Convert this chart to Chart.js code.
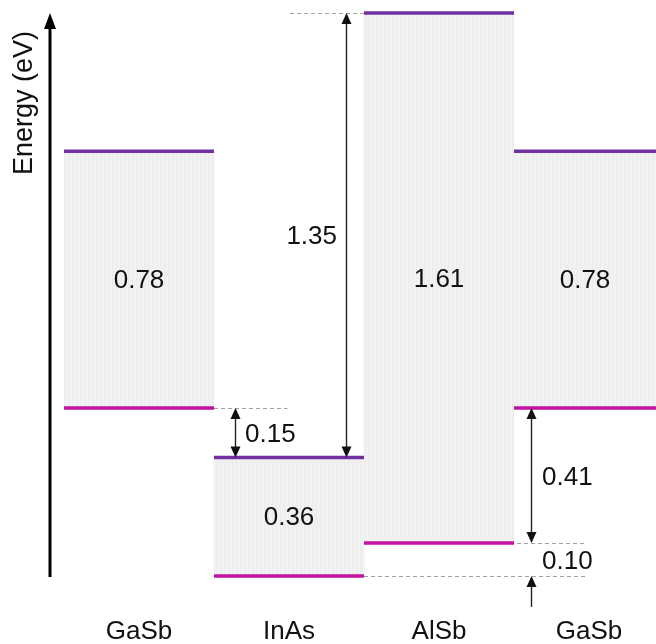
<!DOCTYPE html>
<html><head><meta charset="utf-8">
<script src="https://cdn.jsdelivr.net/npm/chart.js@4.4.1/dist/chart.umd.min.js"></script>
<style>html,body{margin:0;padding:0;background:#fff}#wrap{width:656px;height:644px}</style>
</head><body><div id="wrap"><canvas id="c" width="656" height="644"></canvas></div>
<script>
// ---- data ----
const materials = ['GaSb', 'InAs', 'AlSb', 'GaSb'];
const valenceBand = [0.51, 0.00, 0.10, 0.51];
const conductionBand = [1.29, 0.36, 1.71, 1.29];
const gapLabels = ['0.78', '0.36', '1.61', '0.78'];
const offsetLabels = ['0.15', '1.35', '0.41', '0.10'];
const axisTitle = 'Energy (eV)';

const FONT = '"Liberation Sans", Arial, Helvetica, sans-serif';
const canvas = document.getElementById('c');
const ctx0 = canvas.getContext('2d');

function stripePattern() {
  const p = document.createElement('canvas');
  p.width = 4; p.height = 4;
  const g = p.getContext('2d');
  g.fillStyle = '#f1f1f1'; g.fillRect(0, 0, 4, 4);
  g.fillStyle = '#ececec'; g.fillRect(0, 0, 1, 4);
  return ctx0.createPattern(p, 'repeat');
}

function bandSegments(levels) {
  const out = [];
  levels.forEach((v, i) => { out.push({x: i, y: v}, {x: i + 1, y: v}, {x: i + 1, y: null}); });
  return out;
}

function arrowHead(ctx, x, y, dir, w, l) {
  ctx.beginPath();
  ctx.moveTo(x, y);
  ctx.lineTo(x - w / 2, y - dir * l);
  ctx.lineTo(x + w / 2, y - dir * l);
  ctx.closePath();
  ctx.fill();
}

const decorations = {
  id: 'decorations',
  afterDatasetsDraw(chart) {
    const ctx = chart.ctx;
    const xs = chart.scales.x, ys = chart.scales.y;
    const X = v => xs.getPixelForValue(v);
    const Y = v => ys.getPixelForValue(v);
    const area = chart.chartArea;
    ctx.save();

    // gap labels in the centre of each (visible) box
    const meta = chart.getDatasetMeta(0);
    ctx.font = '26px ' + FONT;
    ctx.fillStyle = '#111';
    ctx.textAlign = 'center';
    ctx.textBaseline = 'middle';
    meta.data.forEach((el, i) => {
      const p = el.getProps(['x', 'y', 'base', 'width'], true);
      const l = Math.max(area.left, p.x - p.width / 2);
      const r = Math.min(area.right, p.x + p.width / 2);
      ctx.fillText(gapLabels[i], (l + r) / 2, (p.y + p.base) / 2 + 1.5);
    });

    // dashed guide lines
    ctx.strokeStyle = '#a0a0a0';
    ctx.lineWidth = 1;
    ctx.setLineDash([4, 3]);
    const dashes = [
      {y: valenceBand[0], x0: 1.0, x1: 1.49},
      {y: conductionBand[2], x0: 1.507, x1: 2.0},
      {y: valenceBand[2], x0: 3.02, x1: 3.48},
      {y: valenceBand[1], x0: 2.0, x1: 3.48}
    ];
    dashes.forEach(d => {
      ctx.beginPath();
      ctx.moveTo(X(d.x0), Math.round(Y(d.y)) + 0.5);
      ctx.lineTo(X(d.x1), Math.round(Y(d.y)) + 0.5);
      ctx.stroke();
    });
    ctx.setLineDash([]);

    // band offset arrows
    const arrows = [
      {x: 1.14, from: conductionBand[1], to: valenceBand[0], both: true, label: offsetLabels[0], lx: 1.207, align: 'left'},
      {x: 1.88, from: conductionBand[1], to: conductionBand[2], both: true, label: offsetLabels[1], lx: 1.82, align: 'right'},
      {x: 3.113, from: valenceBand[2], to: valenceBand[3], both: true, label: offsetLabels[2], lx: 3.187, align: 'left'},
      {x: 3.113, from: -0.094, to: valenceBand[1], both: false, label: offsetLabels[3], lx: 3.187, align: 'left',
        labelFrom: valenceBand[1], labelTo: valenceBand[2]}
    ];
    ctx.strokeStyle = '#222';
    ctx.fillStyle = '#111';
    ctx.lineWidth = 1.4;
    arrows.forEach(a => {
      const x = Math.round(X(a.x)) + 0.5;
      const yA = Y(a.from), yB = Y(a.to);
      const up = yB < yA;
      ctx.beginPath();
      ctx.moveTo(x, a.both ? yA + (up ? -8 : 8) : yA);
      ctx.lineTo(x, yB + (up ? 8 : -8));
      ctx.stroke();
      arrowHead(ctx, x, yB, up ? -1 : 1, 10, 11);
      if (a.both) arrowHead(ctx, x, yA, up ? 1 : -1, 10, 11);
      const lf = a.labelFrom !== undefined ? a.labelFrom : a.from;
      const lt = a.labelTo !== undefined ? a.labelTo : a.to;
      ctx.font = '26px ' + FONT;
      ctx.textAlign = a.align;
      ctx.textBaseline = 'middle';
      ctx.fillText(a.label, X(a.lx), (Y(lf) + Y(lt)) / 2 + 2);
    });

    // energy axis arrow
    ctx.strokeStyle = '#000';
    ctx.fillStyle = '#000';
    ctx.lineWidth = 3;
    ctx.beginPath();
    ctx.moveTo(50, Y(valenceBand[1]) + 1);
    ctx.lineTo(50, 26);
    ctx.stroke();
    arrowHead(ctx, 50, 13, -1, 12, 16);

    // axis title
    ctx.save();
    ctx.translate(25, 103);
    ctx.rotate(-Math.PI / 2);
    ctx.font = '27px ' + FONT;
    ctx.fillStyle = '#111';
    ctx.textAlign = 'center';
    ctx.textBaseline = 'middle';
    ctx.fillText(axisTitle, 0, 0);
    ctx.restore();

    ctx.restore();
  }
};

new Chart(canvas, {
  type: 'bar',
  data: {
    datasets: [
      {
        type: 'bar',
        label: 'Band gap',
        data: materials.map((m, i) => ({x: i + 0.5, y: [valenceBand[i], conductionBand[i]]})),
        backgroundColor: stripePattern(),
        borderWidth: 0,
        barPercentage: 1,
        categoryPercentage: 1,
        order: 3
      },
      {
        type: 'line',
        label: 'Conduction band',
        data: bandSegments(conductionBand),
        borderColor: '#7030a0',
        borderWidth: 3.5,
        borderCapStyle: 'butt',
        pointRadius: 0,
        spanGaps: false,
        order: 1
      },
      {
        type: 'line',
        label: 'Valence band',
        data: bandSegments(valenceBand),
        borderColor: '#c2129f',
        borderWidth: 3.5,
        borderCapStyle: 'butt',
        pointRadius: 0,
        spanGaps: false,
        order: 1
      }
    ]
  },
  options: {
    responsive: false,
    animation: false,
    events: [],
    layout: {padding: {left: 64, right: 0, top: 5, bottom: 0}},
    plugins: {legend: {display: false}, tooltip: {enabled: false}},
    scales: {
      x: {
        type: 'linear',
        offset: false,
        min: 0,
        max: 592 / 150,
        grid: {display: false, drawTicks: false},
        border: {display: false},
        afterBuildTicks: axis => { axis.ticks = materials.map((m, i) => ({value: i + 0.5})); },
        afterFit: axis => { axis.height = 34; },
        ticks: {
          autoSkip: false,
          maxRotation: 0,
          padding: 6,
          color: '#111',
          font: {family: FONT, size: 26},
          callback: (v, i) => materials[i]
        }
      },
      y: {
        display: false,
        min: -0.1033,
        max: 1.7343
      }
    }
  },
  plugins: [decorations]
});
</script>
</body></html>
